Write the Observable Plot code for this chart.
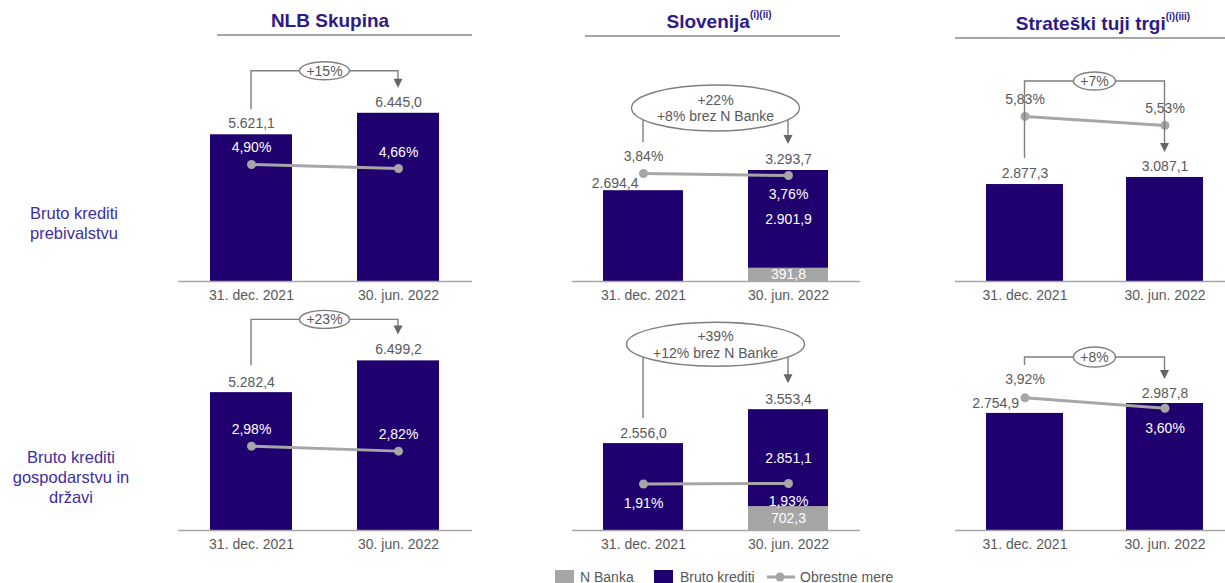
<!DOCTYPE html>
<html>
<head>
<meta charset="utf-8">
<script src="https://cdn.jsdelivr.net/npm/d3@7"></script>
<script src="https://cdn.jsdelivr.net/npm/@observablehq/plot@0.6"></script>
<style>
html, body { margin: 0; padding: 0; background: #fff; overflow: hidden; }
#root { position: relative; width: 1225px; height: 583px; font-family: Arial, "Liberation Sans", sans-serif; }
.title { position: absolute; transform: translate(-50%, -50%); font-weight: bold; font-size: 19px; color: #2e1a87; white-space: nowrap; }
.title sup { font-size: 10px; position: relative; top: -2px; vertical-align: top; }
.uline { position: absolute; height: 2px; background: #a6a6a6; }
.rowlabel { position: absolute; transform: translate(-50%, -50%); text-align: center; font-size: 16.5px; color: #3f2f9c; line-height: 20px; white-space: nowrap; }
.leg { position: absolute; top: 577px; transform: translateY(-50%); font-size: 14px; color: #595959; white-space: nowrap; }
.sw { position: absolute; width: 19px; height: 18px; top: 570px; }
</style>
</head>
<body>
<div id="root"></div>
<script>
// ---------- data ----------
const dates = ["31. dec. 2021", "30. jun. 2022"];
const series = ["N Banka", "Bruto krediti"];
const columnTitles = ["NLB Skupina", "Slovenija", "Strateški tuji trgi"];
const columnNotes = ["", "(i)(ii)", "(i)(iii)"];
const rowLabels = [["Bruto krediti", "prebivalstvu"], ["Bruto krediti", "gospodarstvu in", "državi"]];
const legendLabels = ["N Banka", "Bruto krediti", "Obrestne mere"];

// Row 1: Bruto krediti prebivalstvu
const groupHouseholdLoans = [5621.1, 6445.0];
const groupHouseholdRates = [4.90, 4.66];
const sloHouseholdLoans = [2694.4, 2901.9];
const sloHouseholdNBanka = [0, 391.8];
const sloHouseholdRates = [3.84, 3.76];
const foreignHouseholdLoans = [2877.3, 3087.1];
const foreignHouseholdRates = [5.83, 5.53];

// Row 2: Bruto krediti gospodarstvu in državi
const groupCorporateLoans = [5282.4, 6499.2];
const groupCorporateRates = [2.98, 2.82];
const sloCorporateLoans = [2556.0, 2851.1];
const sloCorporateNBanka = [0, 702.3];
const sloCorporateRates = [1.91, 1.93];
const foreignCorporateLoans = [2754.9, 2987.8];
const foreignCorporateRates = [3.92, 3.60];

const growthLabels = [
  ["+15%"], ["+22%", "+8% brez N Banke"], ["+7%"],
  ["+23%"], ["+39%", "+12% brez N Banke"], ["+8%"]
];

// ---------- styles / layout ----------
const BAR = "#20006f", NB = "#a6a6a6", RATE = "#a6a6a6", TXT = "#595959", ANN = "#7f7f7f";
const W = "#ffffff";
const panels = [
  {loans: groupHouseholdLoans, nbanka: null, rates: groupHouseholdRates, growth: growthLabels[0],
   left: 178, width: 294, top: 40, plotH: 241, yMax: 9234, rateDomain: [-2.15, 12.37], pi: 0.44, po: 0.22,
   totalLabels: [{dy: -11}, {dy: -11}], rateLabels: [{dy: -17, fill: W}, {dy: -16, fill: W}],
   ann: {type: "bracket", leftGap: 25, level: 42, tipGap: 25, rx: 25, ry: 9}},
  {loans: sloHouseholdLoans, nbanka: sloHouseholdNBanka, rates: sloHouseholdRates, growth: growthLabels[1],
   left: 572, width: 288, top: 40, plotH: 241, yMax: 7151, rateDomain: [-0.48, 9.16], pi: 0.448, po: 0.217,
   totalLabels: [{dx: -5, dy: -7, anchor: "end"}, {dy: -11}], rateLabels: [{dy: -17, fill: TXT}, {dy: 19, fill: W}],
   ann: {type: "ellipse", leftGap: 48, level: 62, tipGap: 26, rx: 84, ry: 23}},
  {loans: foreignHouseholdLoans, nbanka: null, rates: foreignHouseholdRates, growth: growthLabels[2],
   left: 955, width: 279, top: 40, plotH: 241, yMax: 7151, rateDomain: [0.33, 8.36], pi: 0.45, po: 0.221,
   totalLabels: [{dy: -11}, {dy: -11}], rateLabels: [{dy: -17, fill: TXT}, {dy: -17, fill: TXT}],
   ann: {type: "bracket", leftGap: 26, level: 96, tipGap: 25, rx: 21, ry: 9}},
  {loans: groupCorporateLoans, nbanka: null, rates: groupCorporateRates, growth: growthLabels[3],
   left: 178, width: 294, top: 305, plotH: 225, yMax: 8621, rateDomain: [0.28, 7.48], pi: 0.44, po: 0.22,
   totalLabels: [{dy: -10}, {dy: -11}], rateLabels: [{dy: -17, fill: W}, {dy: -17, fill: W}],
   ann: {type: "bracket", leftGap: 27, level: 41, tipGap: 26, rx: 25, ry: 9}},
  {loans: sloCorporateLoans, nbanka: sloCorporateNBanka, rates: sloCorporateRates, growth: growthLabels[4],
   left: 572, width: 288, top: 305, plotH: 225, yMax: 6618, rateDomain: [0.05, 9.05], pi: 0.448, po: 0.217,
   totalLabels: [{dy: -10}, {dy: -10}], rateLabels: [{dy: 20, fill: W}, {dy: 18, fill: W}],
   ann: {type: "ellipse", leftGap: 25, level: 65, tipGap: 26, rx: 89, ry: 22}},
  {loans: foreignCorporateLoans, nbanka: null, rates: foreignCorporateRates, growth: growthLabels[5],
   left: 955, width: 279, top: 305, plotH: 225, yMax: 5294, rateDomain: [-0.16, 6.76], pi: 0.45, po: 0.221,
   totalLabels: [{dx: -6, dy: -10, anchor: "end"}, {dy: -10}], rateLabels: [{dy: -18, fill: TXT}, {dy: 20, fill: W}],
   ann: {type: "bracket", leftGap: 48, level: 46, tipGap: 24, rx: 21, ry: 10}}
];

const NS = "http://www.w3.org/2000/svg";
const locale = d3.formatLocale({decimal: ",", thousands: ".", grouping: [3], currency: ["", " €"]});
const fmtNum = locale.format(",.1f");
const fmtPct = locale.format(".2f");
const fmtRate = r => fmtPct(r) + "%";

function el(tag, attrs, parent) {
  const e = document.createElementNS(NS, tag);
  for (const k in attrs) e.setAttribute(k, attrs[k]);
  if (parent) parent.appendChild(e);
  return e;
}

function annotation(p, totals) {
  return (index, scales) => {
    const g = el("g", {});
    const x = scales.x, y = scales.y;
    if (!x || !y) return g;
    const bw = x.bandwidth ? x.bandwidth() : 0;
    const cx = dates.map(d => x(d) + bw / 2);
    const top = totals.map(t => y(t.total));
    const a = p.ann;
    const x1 = cx[0], x2 = cx[1];
    const yLeft = top[0] - a.leftGap;
    const yTip = top[1] - a.tipGap;
    const ex = (x1 + x2) / 2;
    let ey, d;
    if (a.type === "bracket") {
      ey = Math.min(top[0], top[1]) - a.level;
      d = `M${x1},${yLeft}V${ey}H${x2}V${yTip - 8}`;
    } else {
      ey = top[1] - a.level;
      d = `M${x1},${ey}V${yLeft}M${x2},${ey}V${yTip - 8}`;
    }
    el("path", {d, fill: "none", stroke: ANN, "stroke-width": 1.4}, g);
    el("path", {d: `M${x2 - 4.5},${yTip - 9}L${x2 + 4.5},${yTip - 9}L${x2},${yTip}Z`, fill: "#666"}, g);
    el("ellipse", {cx: ex, cy: ey, rx: a.rx, ry: a.ry, fill: "#fff", stroke: ANN, "stroke-width": 1.4}, g);
    const lines = p.growth;
    const offs = lines.length === 1 ? [0] : [-8, 8.5];
    lines.forEach((s, i) => {
      const t = el("text", {x: ex, y: ey + offs[i], dy: "0.35em", "text-anchor": "middle",
        fill: TXT, "font-size": 14}, g);
      t.textContent = s;
    });
    return g;
  };
}

function panelPlot(p) {
  const bars = [];
  const segs = [];
  dates.forEach((d, i) => {
    const nb = p.nbanka ? p.nbanka[i] : 0;
    if (nb > 0) {
      bars.push({date: d, series: "N Banka", value: nb});
      segs.push({date: d, y: nb / 2, label: fmtNum(nb)});
      segs.push({date: d, y: nb + p.loans[i] / 2, label: fmtNum(p.loans[i])});
    }
    bars.push({date: d, series: "Bruto krediti", value: p.loans[i]});
  });
  const totals = dates.map((d, i) => ({date: d, total: p.loans[i] + (p.nbanka ? p.nbanka[i] : 0)}));
  const rs = d3.scaleLinear().domain(p.rateDomain).range([0, p.yMax]);
  const rates = dates.map((d, i) => ({date: d, rate: p.rates[i], y: rs(p.rates[i])}));

  const marks = [
    Plot.barY(bars, {x: "date", y: "value", fill: "series", order: series}),
    Plot.ruleY([0], {stroke: "#a6a6a6", strokeWidth: 1.5}),
    Plot.text(segs, {x: "date", y: "y", text: "label", fill: W}),
    Plot.line(rates, {x: "date", y: "y", stroke: RATE, strokeWidth: 3}),
    Plot.dot(rates, {x: "date", y: "y", r: 4.5, fill: RATE}),
    ...totals.map((t, i) => Plot.text([t], {
      x: "date", y: "total", text: d => fmtNum(d.total), fill: TXT,
      dx: p.totalLabels[i].dx || 0, dy: p.totalLabels[i].dy,
      textAnchor: p.totalLabels[i].anchor || "middle"
    })),
    ...rates.map((r, i) => Plot.text([r], {
      x: "date", y: "y", text: d => fmtRate(d.rate), fill: p.rateLabels[i].fill, dy: p.rateLabels[i].dy
    })),
    annotation(p, totals)
  ];

  const svg = Plot.plot({
    width: p.width,
    height: p.plotH + 30,
    marginLeft: 0, marginRight: 0, marginTop: 0, marginBottom: 30,
    style: {fontFamily: "Arial, 'Liberation Sans', sans-serif", fontSize: "14px", color: TXT, background: "transparent", overflow: "visible"},
    x: {type: "band", domain: dates, paddingInner: p.pi, paddingOuter: p.po, label: null, tickSize: 0, tickPadding: 9},
    y: {domain: [0, p.yMax], axis: null},
    color: {domain: series, range: [NB, BAR]},
    marks
  });
  svg.style.position = "absolute";
  svg.style.left = p.left + "px";
  svg.style.top = p.top + "px";
  svg.style.overflow = "visible";
  return svg;
}

const root = document.getElementById("root");
panels.forEach(p => root.appendChild(panelPlot(p)));

// Column titles
const titlePos = [{x: 330, y: 21, l: 217, r: 472, u: 34}, {x: 719, y: 22, l: 585, r: 840, u: 35}, {x: 1103, y: 24, l: 955, r: 1230, u: 37}];
columnTitles.forEach((t, i) => {
  const d = document.createElement("div");
  d.className = "title";
  d.style.left = titlePos[i].x + "px";
  d.style.top = titlePos[i].y + "px";
  d.textContent = t;
  if (columnNotes[i]) {
    const s = document.createElement("sup");
    s.textContent = columnNotes[i];
    d.appendChild(s);
  }
  root.appendChild(d);
  const u = document.createElement("div");
  u.className = "uline";
  u.style.left = titlePos[i].l + "px";
  u.style.width = (titlePos[i].r - titlePos[i].l) + "px";
  u.style.top = titlePos[i].u + "px";
  root.appendChild(u);
});

// Row labels
const rowPos = [{x: 74, y: 223}, {x: 71, y: 477}];
rowLabels.forEach((lines, i) => {
  const d = document.createElement("div");
  d.className = "rowlabel";
  d.style.left = rowPos[i].x + "px";
  d.style.top = rowPos[i].y + "px";
  d.innerHTML = lines.map(s => s.replace(/&/g, "&amp;")).join("<br>");
  root.appendChild(d);
});

// Legend
const sw1 = document.createElement("div"); sw1.className = "sw"; sw1.style.left = "555px"; sw1.style.background = NB; root.appendChild(sw1);
const sw2 = document.createElement("div"); sw2.className = "sw"; sw2.style.left = "654px"; sw2.style.background = BAR; root.appendChild(sw2);
const lsvg = el("svg", {width: 30, height: 12});
lsvg.style.position = "absolute"; lsvg.style.left = "766px"; lsvg.style.top = "571px";
el("line", {x1: 1, x2: 29, y1: 6, y2: 6, stroke: RATE, "stroke-width": 3}, lsvg);
el("circle", {cx: 14, cy: 6, r: 4.5, fill: RATE}, lsvg);
root.appendChild(lsvg);
[[580, 0], [680, 1], [800, 2]].forEach(([x, i]) => {
  const d = document.createElement("div");
  d.className = "leg";
  d.style.left = x + "px";
  d.textContent = legendLabels[i];
  root.appendChild(d);
});
</script>
</body>
</html>
